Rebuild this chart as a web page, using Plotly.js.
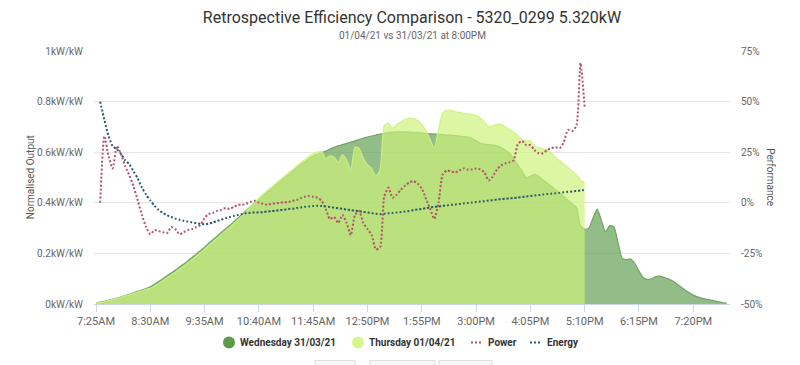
<!DOCTYPE html>
<html><head><meta charset="utf-8">
<script src="https://cdn.plot.ly/plotly-3.0.1.min.js"></script>
<style>html,body{margin:0;padding:0;background:#fff}#chart{width:800px;height:365px}</style>
</head><body><div id="chart"></div>
<script>
// 5-minute samples, Wednesday from 7:25AM to 8:00PM (k = 0..151)
const wednesdayOutput = [0.005,0.008,0.011,0.015,0.019,0.023,0.028,0.033,0.038,0.044,0.05,0.055,0.061,0.068,
 0.078,0.089,0.1,0.112,0.123,0.134,0.146,0.158,0.171,0.184,0.197,0.211,0.225,
 0.24,0.254,0.268,0.283,0.297,0.31,0.325,0.34,0.355,0.37,0.385,0.4,0.415,
 0.43,0.443,0.456,0.47,0.483,0.497,0.51,0.523,0.537,0.55,0.562,0.574,0.585,
 0.592,0.598,0.605,0.612,0.619,0.625,0.63,0.635,0.64,0.645,0.65,0.655,0.66,0.664,0.668,0.672,0.675,
 0.677,0.679,0.68,0.68,0.68,0.679,0.678,0.677,0.676,0.675,0.673,0.672,0.671,0.67,0.668,0.667,0.666,0.664,0.662,0.66,
 0.655,0.645,0.635,0.632,0.63,0.628,0.625,0.618,0.608,0.595,0.575,0.55,0.525,0.5,0.505,0.512,0.505,0.49,0.478,0.466,0.452,0.44,0.425,0.41,0.395,0.383,0.31,0.296,
 0.3,0.34,0.375,0.33,0.285,0.31,0.305,0.24,0.18,0.175,0.178,0.16,0.13,0.105,0.097,0.1,0.108,0.11,0.105,0.1,0.092,0.08,0.068,0.055,0.045,0.035,0.028,0.023,0.019,0.016,0.012,0.009,0.006,0.003];
// Thursday from 7:25AM to 5:10PM (k = 0..117)
const thursdayOutput = [0.004,0.007,0.01,0.014,0.018,0.022,0.027,0.032,0.037,0.042,0.047,0.052,0.058,0.062,
 0.071,0.081,0.092,0.104,0.115,0.126,0.138,0.15,0.163,0.176,0.189,0.203,0.217,
 0.232,0.246,0.26,0.275,0.289,0.303,0.318,0.333,0.349,0.366,0.383,0.4,0.418,
 0.434,0.448,0.462,0.476,0.49,0.504,0.518,0.531,0.545,0.558,0.571,0.583,0.594,0.6,0.603,
 0.575,0.585,0.58,0.56,0.59,0.57,0.53,0.62,0.615,0.575,0.55,0.535,0.505,0.53,
 0.705,0.715,0.695,0.71,0.72,0.73,0.735,0.733,0.725,0.71,0.685,0.65,0.615,0.69,0.755,0.765,0.765,0.76,0.757,0.754,0.752,0.75,0.745,0.735,0.72,0.70,0.705,0.71,0.71,
 0.70,0.69,0.68,0.665,0.65,0.645,0.645,0.625,0.618,0.613,0.61,0.597,0.58,0.567,0.553,0.54,0.525,0.51,0.49,0.478];
// Performance % from 7:30AM to 5:10PM (k = 1..117)
const powerPerf = [0,33,23,17,28,24,18,13.5,8,1,-6,-12,-15.5,
 -13.5,-14,-14.5,-15,-12,-13,-15.5,-14.5,-13.5,-13,-12,-11,-7.5,
 -5.5,-5,-4,-3.5,-2.6,-3,-2,-1,-1,-0.5,0.5,1,0,
 -0.5,-1,-0.5,-0.3,0,0.3,0.3,1,1.3,2.3,3,3.3,3,
 2.5,1,-3,-8,-7,-10,-6,-10,-16,-6,-4,-10,-13,-16,-23,-22,
 3,7.5,2.5,4,6.5,8.5,10,10.7,9.5,7,2,-3,-8,0,14,16,15.5,15,16,17,16.5,16.5,
 17,16.5,15,11,13,16.5,18.5,19.5,20,21,29,30.5,28.5,28.5,26,24.5,24.5,26,27,27.5,27,30,36,35.5,38,69,47];
const energyPerf = [50,41,33,28,26.5,24,21,19,15.5,12,7.5,4,1.2,
 -1.5,-3.5,-5,-6.2,-7,-7.8,-8.4,-8.9,-9.3,-9.7,-10,-10.4,-10.6,
 -10.3,-9.7,-9,-8.3,-7.6,-7,-6.5,-6,-5.5,-5.1,-4.9,-4.8,-4.7,
 -4.6,-4.3,-4.1,-3.9,-3.6,-3.4,-3.1,-2.9,-2.6,-2.3,-2,-1.8,-1.6,-1.5,-1.6,
 -1.8,-2.1,-2.4,-2.7,-3,-3.3,-3.6,-3.9,-4.2,-4.5,-4.8,-5.1,-5.4,-5.6,
 -5.4,-5.2,-5,-4.8,-4.6,-4.3,-4,-3.6,-3.3,-3,-2.7,-2.3,-2,
 -1.8,-1.5,-1.3,-1,-0.8,-0.6,-0.3,-0.1,0.1,0.4,0.6,0.8,1.1,1.3,1.6,1.8,
 2,2.2,2.3,2.6,2.8,3.1,3.3,3.6,3.8,4.1,4.3,4.5,4.7,4.9,5.2,5.4,5.6,5.9,6.1,6.3];
const leftTickVals = [0,0.2,0.4,0.6,0.8,1];
const leftTickText = ['0kW/kW','0.2kW/kW','0.4kW/kW','0.6kW/kW','0.8kW/kW','1kW/kW'];
const rightTickVals = [-50,-25,0,25,50,75];
const rightTickText = ['-50%','-25%','0%','25%','50%','75%'];
const seriesNames = ['Wednesday 31/03/21','Thursday 01/04/21','Power','Energy'];
const seriesColors = ['#5a9a48','#d6f58c','#b4506c','#2c5a68'];

function timeAt(k){ const m = 7*60+25+5*k; const h = Math.floor(m/60), mm = m%60;
  return '2021-04-01 ' + String(h).padStart(2,'0') + ':' + String(mm).padStart(2,'0') + ':00'; }
const wedTimes = wednesdayOutput.map((_,k)=>timeAt(k));
const thuTimes = thursdayOutput.map((_,k)=>timeAt(k));
const perfTimes = powerPerf.map((_,i)=>timeAt(i+1));

const F = 'Liberation Sans Narrow, Roboto, sans-serif';
const traces = [
 {x:wedTimes,y:wednesdayOutput,type:'scatter',mode:'lines',fill:'tozeroy',yaxis:'y',name:seriesNames[0],showlegend:false,hoverinfo:'skip',
  line:{color:'rgb(110,165,95)',width:1.2,shape:'spline',smoothing:0.6},fillcolor:'rgba(90,155,75,0.66)'},
 {x:thuTimes,y:thursdayOutput,type:'scatter',mode:'lines',fill:'tozeroy',yaxis:'y',name:seriesNames[1],showlegend:false,hoverinfo:'skip',
  line:{color:'rgba(205,242,130,0.9)',width:1.2,shape:'spline',smoothing:0.6},fillcolor:'rgba(205,242,120,0.68)'},
 {x:perfTimes,y:powerPerf,type:'scatter',mode:'lines',yaxis:'y2',name:seriesNames[2],showlegend:false,
  line:{color:seriesColors[2],width:2,dash:'2px,2px',shape:'spline',smoothing:0.6}},
 {x:perfTimes,y:energyPerf,type:'scatter',mode:'lines',yaxis:'y2',name:seriesNames[3],showlegend:false,
  line:{color:seriesColors[3],width:2,dash:'2px,2px',shape:'spline',smoothing:0.6}}
];
const L=94, R=730, T=50.7, B=304;
const px2x = p => (p-L)/(R-L), px2y = p => (B-p)/(B-T);
const btn = (a,b)=>({type:'rect',xref:'paper',yref:'paper',x0:px2x(a),x1:px2x(b),y0:px2y(360.5),y1:px2y(372),
  line:{color:'#dcdcdc',width:1},fillcolor:'#f8f8f8'});
// legend (drawn by hand to match the compact reference layout)
const LY = 342.5;
const legendDot = (cx,color)=>({type:'circle',xref:'paper',yref:'paper',xsizemode:'pixel',ysizemode:'pixel',
  xanchor:px2x(cx),yanchor:px2y(LY),x0:-6,x1:6,y0:-6,y1:6,fillcolor:color,line:{width:0}});
const legendLine = (cx,color)=>({type:'line',xref:'paper',yref:'paper',xsizemode:'pixel',
  xanchor:px2x(cx),x0:-6,x1:6,y0:px2y(LY),y1:px2y(LY),line:{color:color,width:2,dash:'2px,2px'}});
const legendText = (x,t)=>({text:'<b>'+t+'</b>',xref:'paper',yref:'paper',x:px2x(x),y:px2y(LY),xanchor:'left',yanchor:'middle',
  showarrow:false,font:{family:F,size:10,color:'#333'}});
const layout = {
 width:800,height:365,margin:{l:L,r:800-R,t:T,b:365-B},paper_bgcolor:'#fff',plot_bgcolor:'#fff',
 font:{family:F,color:'#666',size:11},showlegend:false,
 title:{text:'Retrospective Efficiency Comparison - 5320_0299 5.320kW',font:{family:F,size:16,color:'#333'},
  x:0.5,xanchor:'center',y:1-17/365,yanchor:'middle',xref:'paper'},
 xaxis:{type:'date',range:['2021-04-01 07:22:36','2021-04-01 20:03:57'],tick0:'2021-04-01 07:25:00',dtick:65*60000,
  tickformat:'%-I:%M%p',showgrid:false,zeroline:false,showline:true,linecolor:'#ccd6eb',linewidth:1,
  ticks:'outside',ticklen:7,tickcolor:'#ccd6eb',tickfont:{family:F,size:11,color:'#666'},fixedrange:true},
 yaxis:{range:[0,1],tickvals:leftTickVals,ticktext:leftTickText,gridcolor:'#e6e6e6',zeroline:false,showline:false,
  ticks:'',ticklabelstandoff:10,tickfont:{family:F,size:10,color:'#666'},fixedrange:true},
 yaxis2:{range:[-50,75],tickvals:rightTickVals,ticktext:rightTickText,overlaying:'y',side:'right',showgrid:false,
  zeroline:false,showline:false,ticks:'',ticklabelstandoff:10,tickfont:{family:F,size:10,color:'#666'},fixedrange:true},
 annotations:[
  {text:'01/04/21 vs 31/03/21 at 8:00PM',xref:'paper',yref:'paper',x:0.5,y:px2y(35),xanchor:'center',yanchor:'middle',
   showarrow:false,font:{family:F,size:10,color:'#666'}},
  {text:'Normalised Output',xref:'paper',yref:'paper',x:px2x(30),y:px2y(177),textangle:-90,xanchor:'center',yanchor:'middle',
   showarrow:false,font:{family:F,size:10,color:'#555'}},
  {text:'Performance',xref:'paper',yref:'paper',x:px2x(771),y:px2y(177),textangle:90,xanchor:'center',yanchor:'middle',
   showarrow:false,font:{family:F,size:10,color:'#555'}},
  legendText(238,seriesNames[0]),legendText(367,seriesNames[1]),legendText(486,seriesNames[2]),legendText(545,seriesNames[3])
 ],
 shapes:[btn(315,355),btn(370,435),btn(439,492),
  legendDot(229,seriesColors[0]),legendDot(358,seriesColors[1]),legendLine(477,seriesColors[2]),legendLine(536,seriesColors[3])],
 hovermode:false
};
Plotly.newPlot('chart',traces,layout,{displayModeBar:false,staticPlot:true});
</script></body></html>
